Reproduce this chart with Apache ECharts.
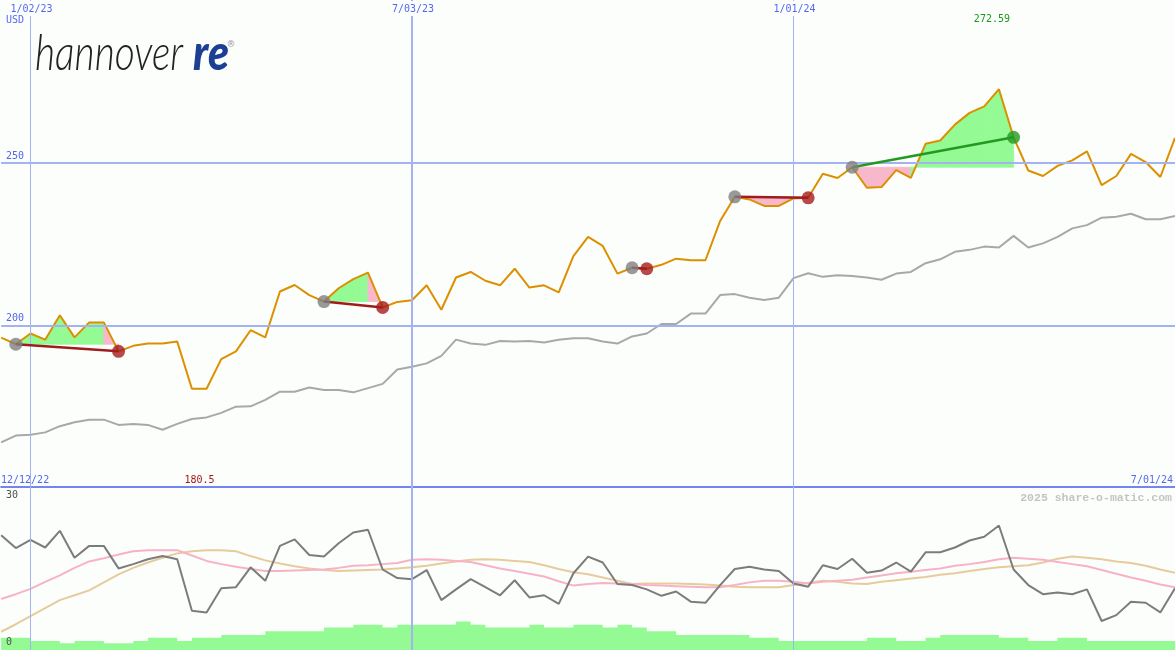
<!DOCTYPE html>
<html><head><meta charset="utf-8">
<script src="https://cdn.jsdelivr.net/npm/echarts@6/dist/echarts.min.js"></script>
<style>html,body{margin:0;padding:0;background:#fcfefc;}#c{width:1175px;height:650px;}</style>
</head><body><div id="c"></div>
<script>
// ---------------- DATA ----------------
// weekly closes, first week 12/19/22, last week 7/01/24
const priceValues = [
  196.2,194.2,197.5,195.6,203.1,196.3,200.9,200.9,192.0,193.7,
  194.4,194.4,195.0,180.5,180.5,189.6,192.0,198.5,196.3,210.4,
  212.4,209.3,207.3,211.4,214.2,216.2,205.5,207.2,207.7,212.3,
  204.8,214.7,216.4,213.7,212.3,217.4,211.6,212.3,210.1,221.3,
  227.2,224.4,215.9,217.7,217.4,218.6,220.5,220.0,220.0,232.1,
  239.5,238.7,236.7,236.7,239.0,239.2,246.6,245.3,248.6,242.3,
  242.5,247.7,245.3,255.8,256.8,261.7,265.3,267.3,272.59,257.8,
  247.6,245.9,249.0,250.7,253.5,243.1,245.9,252.7,250.2,245.6,
  257.6
];
const benchmarkValues = [
  164.0,166.1,166.4,167.1,169.0,170.2,171.0,171.0,169.4,169.7,
  169.4,167.9,169.7,171.2,171.7,173.1,175.0,175.1,177.1,179.6,
  179.6,180.9,180.1,180.1,179.4,180.7,182.0,186.4,187.3,188.3,
  190.6,195.6,194.4,194.0,195.2,195.0,195.2,194.7,195.6,196.0,
  196.0,195.0,194.4,196.6,197.5,200.4,200.4,203.6,203.6,209.3,
  209.6,208.5,207.8,208.5,214.5,216.0,214.9,215.4,215.2,214.7,
  214.0,215.9,216.4,219.1,220.3,222.6,223.2,224.2,223.9,227.5,
  223.9,225.2,227.2,229.8,230.8,233.1,233.4,234.3,232.6,232.6,
  233.6
];
const oscValues = [
  21.4,19.0,20.5,19.1,22.2,17.2,19.4,19.4,15.2,16.0,
  16.9,17.5,16.9,7.3,7.0,11.5,11.7,15.4,12.9,19.4,
  20.6,17.7,17.4,19.9,21.9,22.4,15.0,13.4,13.2,14.9,
  9.3,11.3,13.2,11.7,10.2,13.0,9.8,10.2,8.6,14.3,
  17.4,16.3,12.3,12.1,11.3,10.1,10.9,9.0,8.8,12.1,
  15.1,15.5,15.0,14.7,12.4,11.8,15.8,15.1,17.0,14.4,
  14.8,16.3,14.6,18.2,18.2,19.1,20.4,21.1,23.2,15.0,
  12.1,10.4,10.7,10.4,11.3,5.4,6.5,9.0,8.8,7.0,
  11.5
];
const oscFastAvg = [
  9.5,10.4,11.4,12.7,13.9,15.3,16.5,17.1,17.8,18.4,
  18.6,18.6,18.6,17.6,16.6,16.0,15.5,15.1,14.7,14.7,
  14.8,14.9,15.0,15.3,15.7,15.8,16.0,16.2,16.8,16.9,
  16.8,16.6,16.4,15.8,15.2,14.7,14.2,13.7,12.8,12.0,
  12.3,12.5,12.4,12.3,12.1,12.0,11.9,11.8,11.7,11.7,
  12.1,12.6,12.9,12.9,12.7,12.4,12.7,12.9,13.1,13.5,
  13.9,14.3,14.6,14.9,15.2,15.7,16.0,16.4,16.9,17.2,
  17.0,16.8,16.4,16.0,15.6,14.9,14.2,13.5,12.9,12.2,
  11.7
];
const oscSlowAvg = [
  3.4,4.8,6.3,7.8,9.3,10.2,11.1,12.6,14.1,15.3,
  16.3,17.2,18.0,18.4,18.6,18.6,18.4,17.5,16.7,16.1,
  15.6,15.2,14.9,14.7,14.8,14.9,15.0,15.2,15.4,15.7,
  16.1,16.5,16.8,16.9,16.8,16.6,16.4,15.8,15.1,14.5,
  14.1,13.5,12.9,12.3,12.4,12.4,12.4,12.3,12.2,12.0,
  11.8,11.7,11.7,11.7,12.1,12.5,12.9,12.7,12.4,12.3,
  12.7,13.0,13.3,13.6,14.0,14.3,14.7,15.1,15.4,15.6,
  15.8,16.3,17.0,17.4,17.2,16.9,16.5,16.2,15.7,15.0,
  14.4
];
const volumeValues = [
  2.3,2.3,1.7,1.7,1.25,1.7,1.7,1.25,1.25,1.7,
  2.3,2.3,1.7,2.3,2.3,2.8,2.8,2.8,3.5,3.5,
  3.5,3.5,4.2,4.2,4.7,4.7,4.2,4.7,4.7,4.7,
  4.7,5.3,4.7,4.2,4.2,4.2,4.7,4.2,4.2,4.7,
  4.7,4.2,4.7,4.2,3.5,3.5,2.8,2.8,2.8,2.8,
  2.8,2.3,2.3,1.7,1.7,1.7,1.7,1.7,1.7,2.3,
  2.3,1.7,1.7,2.3,2.8,2.8,2.8,2.8,2.3,2.3,
  1.7,1.7,2.3,2.3,1.7,1.7,1.7,1.7,1.7,1.7,
  1.7
];
const tradeEntryDates = ['12/26/22','5/22/23','10/16/23','12/04/23','1/29/24'];
const tradeExitDates  = ['2/13/23','6/19/23','10/23/23','1/08/24','4/15/24'];
const topDateTicks = ['1/02/23','7/03/23','1/01/24'];
const rangeLabels = ['12/12/22','7/01/24'];
const priceTicks = [200, 250];
const oscTicks = [0, 30];
const currencyLabel = 'USD';
const watermark = '2025 share-o-matic.com';

// weekly category labels
const dates = (function(){
  const out = [];
  const t0 = Date.UTC(2022, 11, 19);
  for (let i = 0; i < priceValues.length; i++) {
    const t = new Date(t0 + i * 7 * 86400000);
    out.push((t.getUTCMonth()+1) + '/' + String(t.getUTCDate()).padStart(2,'0') + '/' + String(t.getUTCFullYear()%100).padStart(2,'0'));
  }
  return out;
})();

// ---------------- STYLE ----------------
const BG = '#fcfefc', GRIDC = '#a4b2f2', SEP = '#7484f0', BLUE = '#5468ee';
const MONO = '"DejaVu Sans Mono", monospace';
const GREENF = '#94fa94', PINKF = '#f8b8cc';

// trade fill segments and lines
const fillData = [], tradeLineData = [], markerData = [];
tradeEntryDates.forEach((ed, t) => {
  const a = dates.indexOf(ed), b = dates.indexOf(tradeExitDates[t]);
  const ep = priceValues[a], xp = priceValues[b];
  for (let k = a; k < b; k++) fillData.push([k, k+1, priceValues[k], priceValues[k+1], ep]);
  tradeLineData.push([a, b, ep, xp]);
  markerData.push({value:[a, ep], symbolSize: 13, itemStyle:{color:'#808080'}});
  markerData.push({value:[b, xp], symbolSize: 13, itemStyle:{color: xp > ep ? '#229a22' : '#a41c1c'}});
});

const nulls = dates.map(() => null);
const vLines = topDateTicks.map((d,i) => ({xAxis:d, lineStyle:{color:GRIDC, type:'solid', width: i===1 ? 2 : 1}}));
const chart = echarts.init(document.getElementById('c'), null, {renderer:'canvas'});
const option = {
  backgroundColor: BG,
  animation: false,
  grid: [
    {left: 1.154, right: 0, top: -1, height: 489},
    {left: 1.154, right: 0, top: 487, bottom: 0}
  ],
  xAxis: [
    {type:'category', gridIndex:0, data:dates, boundaryGap:false, show:false},
    {type:'category', gridIndex:1, data:dates, boundaryGap:false, position:'top',
     axisLine:{show:true, onZero:false, lineStyle:{color:SEP, width:2}}, axisTick:{show:false}, axisLabel:{show:false}, splitLine:{show:false}}
  ],
  yAxis: [
    {type:'value', gridIndex:0, min:150, max:300, show:false, splitLine:{show:false}},
    {type:'value', gridIndex:1, min:0, max:30.37, show:false, splitLine:{show:false}}
  ],
  series: [
    {type:'line', xAxisIndex:0, yAxisIndex:0, data:nulls, z:1, silent:true,
     markLine:{symbol:'none', silent:true, label:{show:false},
       data: vLines.concat(priceTicks.map(v => ({yAxis:v, lineStyle:{color:GRIDC, type:'solid', width:2}})))}},
    {type:'line', xAxisIndex:1, yAxisIndex:1, data:nulls, z:1, silent:true,
     markLine:{symbol:'none', silent:true, label:{show:false}, data: vLines}},
    {name:'volume', type:'line', xAxisIndex:1, yAxisIndex:1, data:volumeValues, step:'end', showSymbol:false,
     lineStyle:{width:0}, areaStyle:{color:GREENF, opacity:1}, z:2},
    {name:'slow', type:'line', xAxisIndex:1, yAxisIndex:1, data:oscSlowAvg, showSymbol:false,
     lineStyle:{color:'#e6cc9c', width:2}, z:3},
    {name:'fast', type:'line', xAxisIndex:1, yAxisIndex:1, data:oscFastAvg, showSymbol:false,
     lineStyle:{color:'#f8b2c8', width:2}, z:3},
    {name:'osc', type:'line', xAxisIndex:1, yAxisIndex:1, data:oscValues, showSymbol:false,
     lineStyle:{color:'#7c7c7c', width:2}, z:4},
    {name:'bench', type:'line', xAxisIndex:0, yAxisIndex:0, data:benchmarkValues, showSymbol:false,
     lineStyle:{color:'#a8a8a8', width:2}, z:3},
    {name:'fills', type:'custom', xAxisIndex:0, yAxisIndex:0, data:fillData, z:2,
     encode:{x:[0,1], y:[2,3,4]},
     renderItem: function(params, api){
       const p0 = api.coord([api.value(0), api.value(2)]);
       const p1 = api.coord([api.value(1), api.value(3)]);
       const e1 = api.coord([api.value(1), api.value(4)]);
       const e0 = api.coord([api.value(0), api.value(4)]);
       const c = api.value(3) >= api.value(4) ? GREENF : PINKF;
       return {type:'polygon', shape:{points:[p0,p1,e1,e0]},
               style:{fill: c, stroke: c, lineWidth: 0.8}};
     }},
    {name:'price', type:'line', xAxisIndex:0, yAxisIndex:0, data:priceValues, showSymbol:false,
     lineStyle:{color:'#dc9000', width:2}, z:4},
    {name:'tradeLines', type:'custom', xAxisIndex:0, yAxisIndex:0, data:tradeLineData, z:5,
     encode:{x:[0,1], y:[2,3]},
     renderItem: function(params, api){
       const a = api.coord([api.value(0), api.value(2)]);
       const b = api.coord([api.value(1), api.value(3)]);
       return {type:'line', shape:{x1:a[0], y1:a[1], x2:b[0], y2:b[1]},
               style:{stroke: api.value(3) > api.value(2) ? '#229a22' : '#a01c1c', lineWidth:2.5}};
     }},
    {name:'markers', type:'scatter', xAxisIndex:0, yAxisIndex:0, data:markerData, z:6, symbol:'circle'}
  ]
};
chart.setOption(option);

// ---------------- TEXT ----------------
const g = [];
topDateTicks.forEach(d => {
  const x = chart.convertToPixel({xAxisIndex:0}, d);
  g.push({type:'text', x:x + 1, y:1, z:100, style:{text:d, font:'10px '+MONO, fill:BLUE, align:'center', verticalAlign:'top',
    backgroundColor:BG, padding:[3,2,2,2]}});
});
g.push({type:'text', x:6, y:15.5, z:100, style:{text:currencyLabel, font:'10px '+MONO, fill:BLUE, align:'left', verticalAlign:'top'}});
priceTicks.forEach(v => {
  const y = chart.convertToPixel({yAxisIndex:0}, v);
  g.push({type:'text', x:6, y:y-1.5, z:100, style:{text:String(v), font:'10px '+MONO, fill:BLUE, align:'left', verticalAlign:'bottom'}});
});
{
  const y30 = chart.convertToPixel({yAxisIndex:1}, oscTicks[1]);
  const y0 = chart.convertToPixel({yAxisIndex:1}, oscTicks[0]);
  g.push({type:'text', x:6, y:y30+1.5, z:100, style:{text:String(oscTicks[1]), font:'10px '+MONO, fill:'#505050', align:'left', verticalAlign:'top'}});
  g.push({type:'text', x:6, y:y0-3, z:100, style:{text:String(oscTicks[0]), font:'10px '+MONO, fill:'#505050', align:'left', verticalAlign:'bottom'}});
}
const ySep = chart.convertToPixel({yAxisIndex:1}, 30.37);
g.push({type:'text', x:1, y:ySep-2, z:100, style:{text:rangeLabels[0], font:'10px '+MONO, fill:BLUE, align:'left', verticalAlign:'bottom'}});
g.push({type:'text', x:1173, y:ySep-2, z:100, style:{text:rangeLabels[1], font:'10px '+MONO, fill:BLUE, align:'right', verticalAlign:'bottom'}});
{
  const maxV = Math.max.apply(null, priceValues), minV = Math.min.apply(null, priceValues);
  const xi = priceValues.indexOf(maxV), ni = priceValues.lastIndexOf(minV);
  const xHi = chart.convertToPixel({xAxisIndex:0}, dates[xi]);
  const xLo = chart.convertToPixel({xAxisIndex:0}, dates[ni]);
  g.push({type:'text', x:xHi-7, y:14.5, z:100, style:{text:String(maxV), font:'10px '+MONO, fill:'#189a18', align:'center', verticalAlign:'top'}});
  g.push({type:'text', x:xLo-7, y:ySep-2, z:100, style:{text:String(minV), font:'10px '+MONO, fill:'#a01818', align:'center', verticalAlign:'bottom'}});
}
g.push({type:'text', x:1172, y:ySep+5, z:100, style:{text:watermark, font:'bold 11.5px "Liberation Mono", monospace', fill:'#c4c4c4', align:'right', verticalAlign:'top'}});
// logo
g.push({type:'text', x:35, y:79, scaleX:0.78, z:100,
  style:{text:'hannover', font:'italic 300 50px Lato, "Open Sans", sans-serif', fill:'#222222', align:'left', verticalAlign:'bottom'}});
g.push({type:'text', x:193, y:79, scaleX:0.86, z:100,
  style:{text:'re', font:'italic 900 50px Lato, "Open Sans", sans-serif', fill:'#1c3f94', align:'left', verticalAlign:'bottom'}});
g.push({type:'text', x:231, y:45, z:100, style:{text:'®', font:'9px "DejaVu Sans", sans-serif', fill:'#999999', align:'center', verticalAlign:'middle'}});
chart.setOption({graphic: g});
</script></body></html>
